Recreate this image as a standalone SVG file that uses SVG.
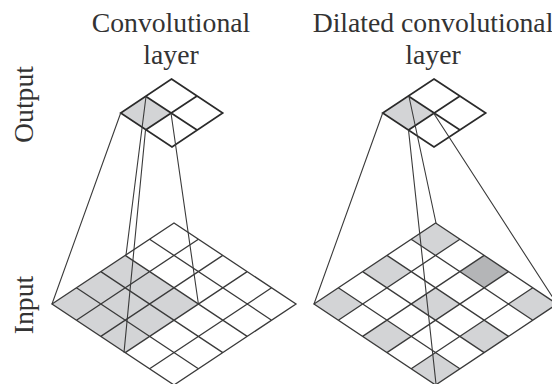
<svg xmlns="http://www.w3.org/2000/svg" width="552" height="384" viewBox="0 0 552 384">
<style>
text{font-family:"Liberation Serif","Times New Roman",serif;font-size:27.7px;fill:#333;text-anchor:middle}
.g{fill:none;stroke:#3a3a3a;stroke-width:1.3}
.o{fill:none;stroke:#2a2a2a;stroke-width:1.7}
.c{fill:none;stroke:#3a3a3a;stroke-width:1.1}
.s{fill:#d3d4d6;stroke:none}
.d{fill:#b4b5b7;stroke:none}
</style>
<rect width="552" height="384" fill="#fff"/>
<g id="title-left"><text x="171" y="32">Convolutional</text><text x="171" y="64">layer</text></g>
<g id="title-right"><text x="433" y="32">Dilated convolutional</text><text x="433" y="64">layer</text></g>
<g id="label-output"><text transform="translate(33,104.5) rotate(-90)">Output</text></g>
<g id="label-input"><text transform="translate(33,305) rotate(-90)">Input</text></g>
<g id="output-left">
<path class="s" d="M120.7 113L146 96.5L171 113L145.5 130Z"/>
<path class="o" d="M171.5 79L222.7 113L172 147L120.7 113ZM146 96.5L197 130M145.5 130L197 96"/>
</g>
<g id="input-left">
<path class="s" d="M52 304L125.2 255.4L198.4 304L125.2 352.6Z"/>
<path class="g" d="M52 304L174 223L296 304L174 385Z
M76.4 287.8L198.4 368.8M100.8 271.6L222.8 352.6M125.2 255.4L247.2 336.4M149.6 239.2L271.6 320.2
M76.4 320.2L198.4 239.2M100.8 336.4L222.8 255.4M125.2 352.6L247.2 271.6M149.6 368.8L271.6 287.8"/>
</g>
<g id="output-right">
<path class="s" d="M382.7 113L409 96.5L433.5 113L408.5 130Z"/>
<path class="o" d="M434 79L485.7 113L434 147L382.7 113ZM409 96.5L460 130M408.5 130L460 96"/>
</g>
<g id="input-right">
<path class="s" d="M314 304L338.3 287.8L362.6 304L338.3 320.2ZM362.6 272L386.9 255.8L411.2 272L386.9 288.2ZM411.2 239L435.6 223L459.9 239L435.6 255.2ZM362.6 336.4L386.9 320.2L411.2 336.4L386.9 352.6ZM411.2 304L435.6 287.8L459.9 304L435.6 320.2ZM411.2 368.8L435.6 352.6L459.9 368.8L435.6 385ZM459.9 336.4L484.2 320.2L508.5 336.4L484.2 352.6ZM508.5 304L532.8 287.8L557.1 304L532.8 320.2Z"/>
<path class="d" d="M459.9 271.6L484.2 255.4L508.5 271.6L484.2 287.8Z"/>
<path class="g" d="M314 304L435.6 223L557.1 304L435.6 385Z
M338.3 287.8L459.9 368.8M362.6 271.6L484.2 352.6M386.9 255.4L508.5 336.4M411.2 239.2L532.8 320.2
M338.3 320.2L459.9 239.2M362.6 336.4L484.2 255.4M386.9 352.6L508.5 271.6M411.2 368.8L532.8 287.8"/>
</g>
<g id="connectors">
<path class="c" d="M120.7 113L52 304M146 96.5L126 255M171 113L198.4 304M145.5 130L124 352.6"/>
<path class="c" d="M382.7 113L314 304M409 96.5L436 223M433.5 113L557 304M408.5 130L436 384"/>
</g>
</svg>
